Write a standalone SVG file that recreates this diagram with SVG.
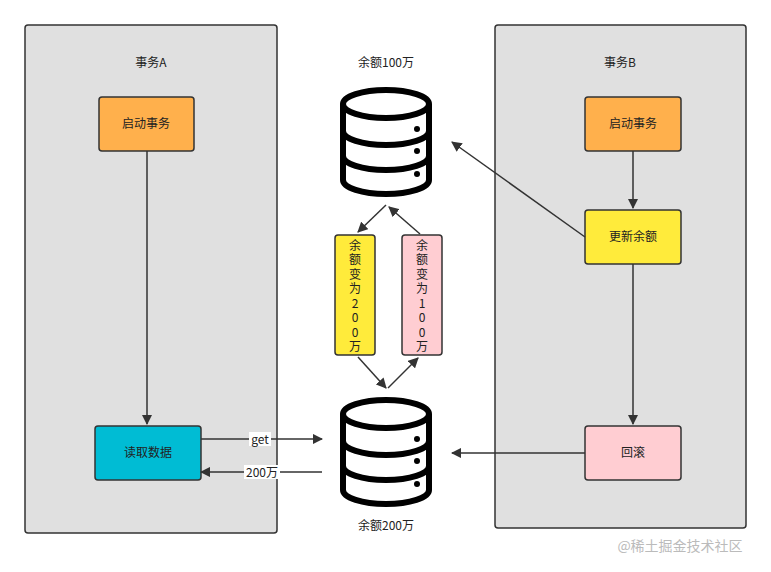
<svg xmlns="http://www.w3.org/2000/svg" width="771" height="572" viewBox="0 0 771 572">
<defs>
<marker id="ah" viewBox="0 0 10 10" refX="9" refY="5" markerWidth="7" markerHeight="7" orient="auto"><path d="M0,0 L10,5 L0,10 z" fill="#333"/></marker>
<g id="db" fill="none" stroke="#000" stroke-width="6">
<ellipse cx="0" cy="0" rx="43" ry="14"/>
<path d="M-43,0 V76 A43,14 0 0 0 43,76 V0"/>
<path d="M-43,27 A43,14 0 0 0 43,27"/>
<path d="M-43,52 A43,14 0 0 0 43,52"/>
<circle cx="31" cy="25" r="3" fill="#000" stroke="none"/>
<circle cx="31" cy="47" r="3" fill="#000" stroke="none"/>
<circle cx="31" cy="70" r="3" fill="#000" stroke="none"/>
</g>
</defs>
<style>
text{font-family:"Noto Sans CJK SC","Liberation Sans",sans-serif;font-size:12px;fill:#222;text-anchor:middle}
.v{writing-mode:vertical-rl;text-orientation:upright;text-anchor:start;letter-spacing:2.5px}
.panel{fill:#e0e0e0;stroke:#333;stroke-width:1.5}
.n{stroke:#333;stroke-width:1.5}
.c{stroke:#333;stroke-width:1.5;fill:none;marker-end:url(#ah)}
</style>
<rect width="771" height="572" fill="#fff"/>
<g id="panelA"><rect class="panel" x="25" y="25" width="252" height="508" rx="3"/><text x="151" y="67">事务A</text></g>
<g id="panelB"><rect class="panel" x="495" y="25" width="251" height="503" rx="3"/><text x="620" y="67">事务B</text></g>
<g id="a1"><rect class="n" x="99" y="97" width="95" height="54" rx="3" fill="#ffb04c"/><text x="146" y="128">启动事务</text></g>
<g id="a2"><rect class="n" x="95" y="426" width="106" height="54" rx="3" fill="#00bcd4"/><text x="148" y="457">读取数据</text></g>
<g id="b1"><rect class="n" x="585" y="97" width="96" height="54" rx="3" fill="#ffb04c"/><text x="633" y="128">启动事务</text></g>
<g id="b2"><rect class="n" x="585" y="210" width="96" height="54" rx="3" fill="#ffeb3b"/><text x="633" y="241">更新余额</text></g>
<g id="b3"><rect class="n" x="585" y="426" width="96" height="54" rx="3" fill="#ffcdd2"/><text x="633" y="457">回滚</text></g>
<g id="db1"><use href="#db" x="386" y="104"/><text x="386" y="67">余额100万</text></g>
<g id="db2"><use href="#db" x="386" y="414"/><text x="386" y="530">余额200万</text></g>
<g id="y"><rect class="n" x="335" y="235" width="40" height="120" rx="3" fill="#ffeb3b"/>
<text class="v" x="355" y="239">余额变为200万</text></g>
<g id="p"><rect class="n" x="402" y="235" width="40" height="120" rx="3" fill="#ffcdd2"/>
<text class="v" x="422" y="239">余额变为100万</text></g>
<g id="connectors">
<path class="c" d="M147,151 V424"/>
<path class="c" d="M633,151 V208"/>
<path class="c" d="M633,264 V424"/>
<path class="c" d="M585,237 L452,142"/>
<path class="c" d="M585,453 H452"/>
<path class="c" d="M201,439 H322"/>
<path class="c" d="M322,472 H201"/>
<path class="c" d="M386,205 L358,232"/>
<path class="c" d="M420,234 L389,207"/>
<path class="c" d="M358,357 L386,388"/>
<path class="c" d="M388,388 L418,358"/>
<rect x="249" y="432" width="22" height="14" fill="#fff"/><text x="260" y="444">get</text>
<rect x="244" y="465" width="36" height="14" fill="#fff"/><text x="262" y="477">200万</text>
</g>
<text x="680" y="551" style="font-size:14px;fill:#bbb">@稀土掘金技术社区</text>
</svg>
